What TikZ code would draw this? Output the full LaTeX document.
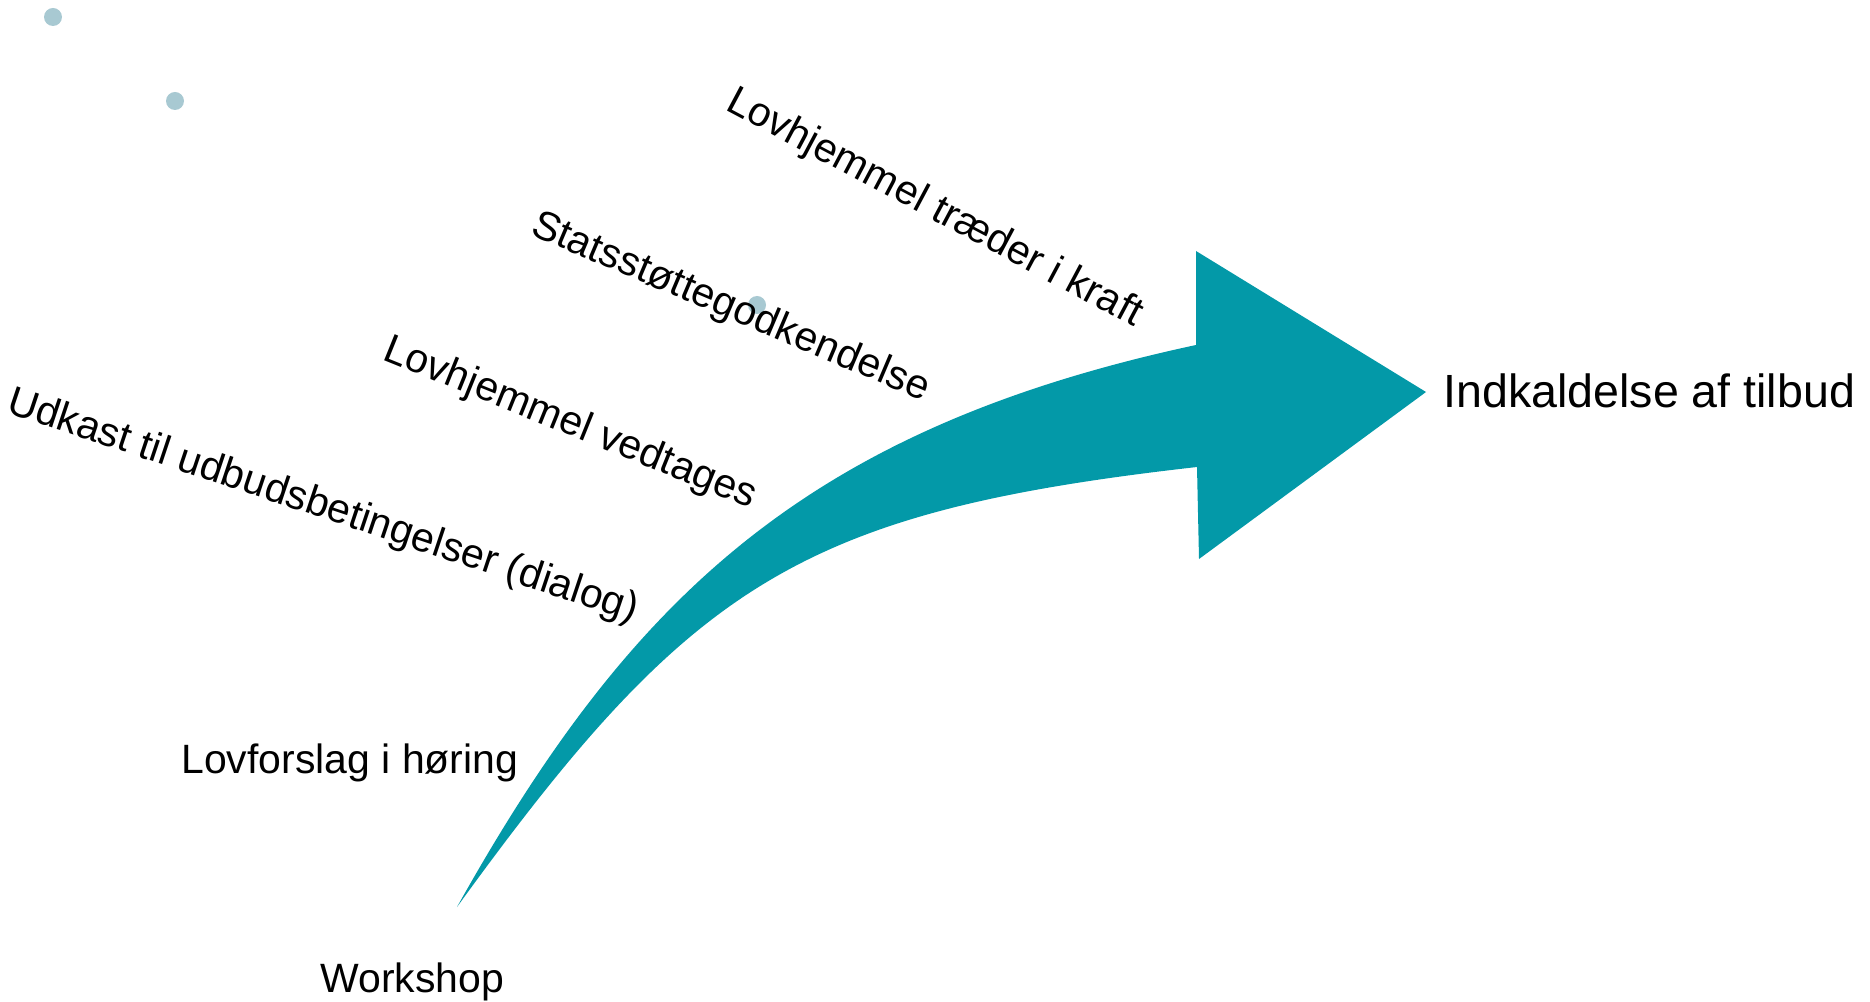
\documentclass[tikz,border=0pt]{standalone}
\usepackage{fontspec}
\setmainfont{Liberation Sans}
\usepackage{tikz}
\usetikzlibrary{positioning}
\definecolor{arrowteal}{RGB}{3,153,168}
\definecolor{dotgrey}{RGB}{168,201,210}

\begin{document}
\begin{tikzpicture}[x=0.2mm, y=-0.2mm,
  milestone/.style={anchor=base west, inner sep=0pt, font=\fontsize{23.3}{27}\selectfont},
  goal/.style={anchor=base west, inner sep=0pt, font=\fontsize{26.5}{31}\selectfont},
  dot/.style={circle, fill=dotgrey, inner sep=0pt, minimum size=3.6mm}]
\useasboundingbox (0,0) rectangle (1870,1002);

\node[dot] (D0) at (53,17) {};
\node[dot] (D1) at (175,101) {};
\node[dot] (D2) at (757,305) {};

\coordinate (tail) at (457,907);
\coordinate (top) at (1196,345);
\coordinate (bottom) at (1197,467);
\coordinate (tip) at (1426,392);
\fill[arrowteal] (tail) .. controls (630,598) and (805,429) .. (top)
	-- (1196,251) -- (tip) -- (1199,559) -- (bottom)
	.. controls (799,512) and (691,584) .. (tail) -- cycle;

\node[milestone] (M0) at (320,992) {Workshop};
\node[milestone] (M1) at (181,773) {Lovforslag i høring};
\node[milestone, rotate=-18.5] (M2) at (5,412) {Udkast til udbudsbetingelser (dialog)};
\node[milestone, rotate=-22] (M3) at (381,359) {Lovhjemmel vedtages};
\node[milestone, rotate=-23] (M4) at (529,234) {Statsstøttegodkendelse};
\node[milestone, rotate=-28] (M5) at (724,109) {Lovhjemmel træder i kraft};
\node[goal] (G) at (1443,408) {Indkaldelse af tilbud};
\end{tikzpicture}
\end{document}
